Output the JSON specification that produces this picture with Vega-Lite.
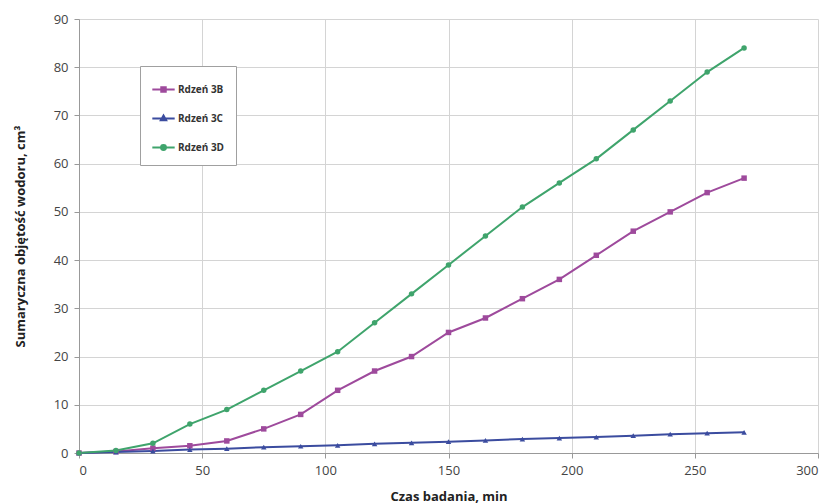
{
  "$schema": "https://vega.github.io/schema/vega-lite/v6.json",
  "width": 739,
  "height": 434,
  "autosize": {"type": "none"},
  "padding": {"left": 79, "top": 19, "right": 15, "bottom": 51},
  "background": "#ffffff",
  "config": {
    "font": "Open Sans",
    "view": {"stroke": null},
    "axis": {
      "labelFont": "Open Sans",
      "labelFontSize": 13,
      "labelColor": "#444444",
      "labelPadding": 6,
      "titleFont": "Open Sans",
      "titleFontSize": 13,
      "titleFontWeight": "bold",
      "titleColor": "#222222",
      "gridColor": "#d4d4d4",
      "gridWidth": 1,
      "domainColor": "#999999",
      "tickColor": "#999999",
      "tickSize": 5
    }
  },
  "data": {
    "values": [
      {"t": 0, "v": 0, "s": "Rdzeń 3B"},
      {"t": 15, "v": 0.3, "s": "Rdzeń 3B"},
      {"t": 30, "v": 1, "s": "Rdzeń 3B"},
      {"t": 45, "v": 1.5, "s": "Rdzeń 3B"},
      {"t": 60, "v": 2.5, "s": "Rdzeń 3B"},
      {"t": 75, "v": 5, "s": "Rdzeń 3B"},
      {"t": 90, "v": 8, "s": "Rdzeń 3B"},
      {"t": 105, "v": 13, "s": "Rdzeń 3B"},
      {"t": 120, "v": 17, "s": "Rdzeń 3B"},
      {"t": 135, "v": 20, "s": "Rdzeń 3B"},
      {"t": 150, "v": 25, "s": "Rdzeń 3B"},
      {"t": 165, "v": 28, "s": "Rdzeń 3B"},
      {"t": 180, "v": 32, "s": "Rdzeń 3B"},
      {"t": 195, "v": 36, "s": "Rdzeń 3B"},
      {"t": 210, "v": 41, "s": "Rdzeń 3B"},
      {"t": 225, "v": 46, "s": "Rdzeń 3B"},
      {"t": 240, "v": 50, "s": "Rdzeń 3B"},
      {"t": 255, "v": 54, "s": "Rdzeń 3B"},
      {"t": 270, "v": 57, "s": "Rdzeń 3B"},
      {"t": 0, "v": 0, "s": "Rdzeń 3C"},
      {"t": 15, "v": 0.2, "s": "Rdzeń 3C"},
      {"t": 30, "v": 0.4, "s": "Rdzeń 3C"},
      {"t": 45, "v": 0.7, "s": "Rdzeń 3C"},
      {"t": 60, "v": 0.9, "s": "Rdzeń 3C"},
      {"t": 75, "v": 1.2, "s": "Rdzeń 3C"},
      {"t": 90, "v": 1.4, "s": "Rdzeń 3C"},
      {"t": 105, "v": 1.6, "s": "Rdzeń 3C"},
      {"t": 120, "v": 1.9, "s": "Rdzeń 3C"},
      {"t": 135, "v": 2.1, "s": "Rdzeń 3C"},
      {"t": 150, "v": 2.35, "s": "Rdzeń 3C"},
      {"t": 165, "v": 2.6, "s": "Rdzeń 3C"},
      {"t": 180, "v": 2.9, "s": "Rdzeń 3C"},
      {"t": 195, "v": 3.1, "s": "Rdzeń 3C"},
      {"t": 210, "v": 3.3, "s": "Rdzeń 3C"},
      {"t": 225, "v": 3.6, "s": "Rdzeń 3C"},
      {"t": 240, "v": 3.9, "s": "Rdzeń 3C"},
      {"t": 255, "v": 4.1, "s": "Rdzeń 3C"},
      {"t": 270, "v": 4.3, "s": "Rdzeń 3C"},
      {"t": 0, "v": 0, "s": "Rdzeń 3D"},
      {"t": 15, "v": 0.5, "s": "Rdzeń 3D"},
      {"t": 30, "v": 2, "s": "Rdzeń 3D"},
      {"t": 45, "v": 6, "s": "Rdzeń 3D"},
      {"t": 60, "v": 9, "s": "Rdzeń 3D"},
      {"t": 75, "v": 13, "s": "Rdzeń 3D"},
      {"t": 90, "v": 17, "s": "Rdzeń 3D"},
      {"t": 105, "v": 21, "s": "Rdzeń 3D"},
      {"t": 120, "v": 27, "s": "Rdzeń 3D"},
      {"t": 135, "v": 33, "s": "Rdzeń 3D"},
      {"t": 150, "v": 39, "s": "Rdzeń 3D"},
      {"t": 165, "v": 45, "s": "Rdzeń 3D"},
      {"t": 180, "v": 51, "s": "Rdzeń 3D"},
      {"t": 195, "v": 56, "s": "Rdzeń 3D"},
      {"t": 210, "v": 61, "s": "Rdzeń 3D"},
      {"t": 225, "v": 67, "s": "Rdzeń 3D"},
      {"t": 240, "v": 73, "s": "Rdzeń 3D"},
      {"t": 255, "v": 79, "s": "Rdzeń 3D"},
      {"t": 270, "v": 84, "s": "Rdzeń 3D"}
    ]
  },
  "encoding": {
    "x": {
      "field": "t", "type": "quantitative",
      "scale": {"domain": [0, 300], "nice": false},
      "axis": {"values": [0, 50, 100, 150, 200, 250, 300], "title": "Czas badania, min", "titlePadding": 13}
    },
    "y": {
      "field": "v", "type": "quantitative",
      "scale": {"domain": [0, 90], "nice": false},
      "axis": {"values": [0, 10, 20, 30, 40, 50, 60, 70, 80, 90], "title": "Sumaryczna objętość wodoru, cm³", "titlePadding": 26}
    },
    "color": {
      "field": "s", "type": "nominal",
      "scale": {"domain": ["Rdzeń 3B", "Rdzeń 3C", "Rdzeń 3D"], "range": ["#9e4a9c", "#3b4c9f", "#3fa46c"]},
      "legend": {
        "title": null,
        "orient": "none",
        "legendX": 61,
        "legendY": 47,
        "direction": "vertical",
        "fillColor": "#ffffff",
        "strokeColor": "#a0a0a0",
        "padding": 11,
        "rowPadding": 10,
        "labelFont": "Open Sans",
        "labelFontSize": 10,
        "labelFontWeight": "bold",
        "labelColor": "#333333",
        "labelOffset": 2,
        "symbolSize": 500,
        "symbolStrokeWidth": 2,
        "symbolType": "M-1,0H1M-0.22,-0.22H0.22V0.22H-0.22Z",
        "labelLimit": 200,
        "encode": {
          "symbols": {
            "update": {
              "shape": {"signal": "datum.value === 'Rdzeń 3B' ? 'M-1,0H1M-0.2,-0.2H0.2V0.2H-0.2Z' : datum.value === 'Rdzeń 3C' ? 'M-1,0H1M0,-0.26L0.24,0.16H-0.24Z' : 'M-1,0H1M0.22,0A0.22,0.22,0,1,1,-0.22,0A0.22,0.22,0,1,1,0.22,0Z'"}
            }
          }
        }
      }
    }
  },
  "layer": [
    {
      "mark": {"type": "line", "strokeWidth": 2}
    },
    {
      "transform": [{"filter": "datum.s == 'Rdzeń 3B'"}],
      "mark": {"type": "point", "filled": true, "size": 30, "opacity": 1, "shape": "square"}
    },
    {
      "transform": [{"filter": "datum.s == 'Rdzeń 3C'"}],
      "mark": {"type": "point", "filled": true, "size": 30, "opacity": 1, "shape": "triangle-up"}
    },
    {
      "transform": [{"filter": "datum.s == 'Rdzeń 3D'"}],
      "mark": {"type": "point", "filled": true, "size": 30, "opacity": 1, "shape": "circle"}
    }
  ]
}
